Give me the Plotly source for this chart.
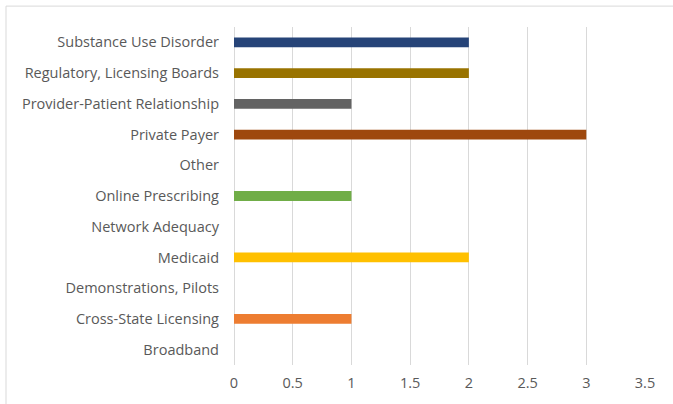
import plotly.graph_objects as go

categories = ["Broadband", "Cross-State Licensing", "Demonstrations, Pilots", "Medicaid",
              "Network Adequacy", "Online Prescribing", "Other", "Private Payer",
              "Provider-Patient Relationship", "Regulatory, Licensing Boards",
              "Substance Use Disorder"]
values = [0, 1, 0, 2, 0, 1, 0, 3, 1, 2, 2]
colors = ["#A5A5A5", "#ED7D31", "#A5A5A5", "#FFC000", "#4472C4", "#70AD47", "#264478",
          "#9E480E", "#636363", "#997300", "#264478"]
x_ticks = [0, 0.5, 1, 1.5, 2, 2.5, 3, 3.5]
x_tick_labels = ["0", "0.5", "1", "1.5", "2", "2.5", "3", "3.5"]

fig = go.Figure(go.Bar(
    y=categories, x=values, orientation="h",
    marker=dict(color=colors, line=dict(width=0)),
    width=0.32,
))

W, H = 673, 404
L, R, T, B = 234, 645, 27, 367

fig.update_layout(
    width=W, height=H,
    margin=dict(l=L, r=W - R, t=T, b=H - B),
    paper_bgcolor="white", plot_bgcolor="white",
    font=dict(family="Open Sans", size=14.5, color="#595959"),
    showlegend=False,
    xaxis=dict(range=[0, 3.5], tickvals=x_ticks, ticktext=x_tick_labels,
               showgrid=True, gridcolor="#D9D9D9", gridwidth=1,
               zeroline=True, zerolinecolor="#D9D9D9", zerolinewidth=1,
               showline=False, ticks="", ticklabelstandoff=7, fixedrange=True),
    yaxis=dict(categoryorder="array", categoryarray=categories,
               showgrid=False, zeroline=False, showline=False, ticks="",
               ticklabelstandoff=14, fixedrange=True),
    shapes=[dict(type="rect", xref="paper", yref="paper",
                 x0=(6 - L) / (R - L), x1=(690 - L) / (R - L),
                 y0=(B - 420) / (B - T), y1=(B - 6) / (B - T),
                 line=dict(color="#D9D9D9", width=1), fillcolor="rgba(0,0,0,0)",
                 layer="below")],
)

fig.write_html("out.html", config={"displayModeBar": False},
               post_script="document.body.style.margin='0';")
